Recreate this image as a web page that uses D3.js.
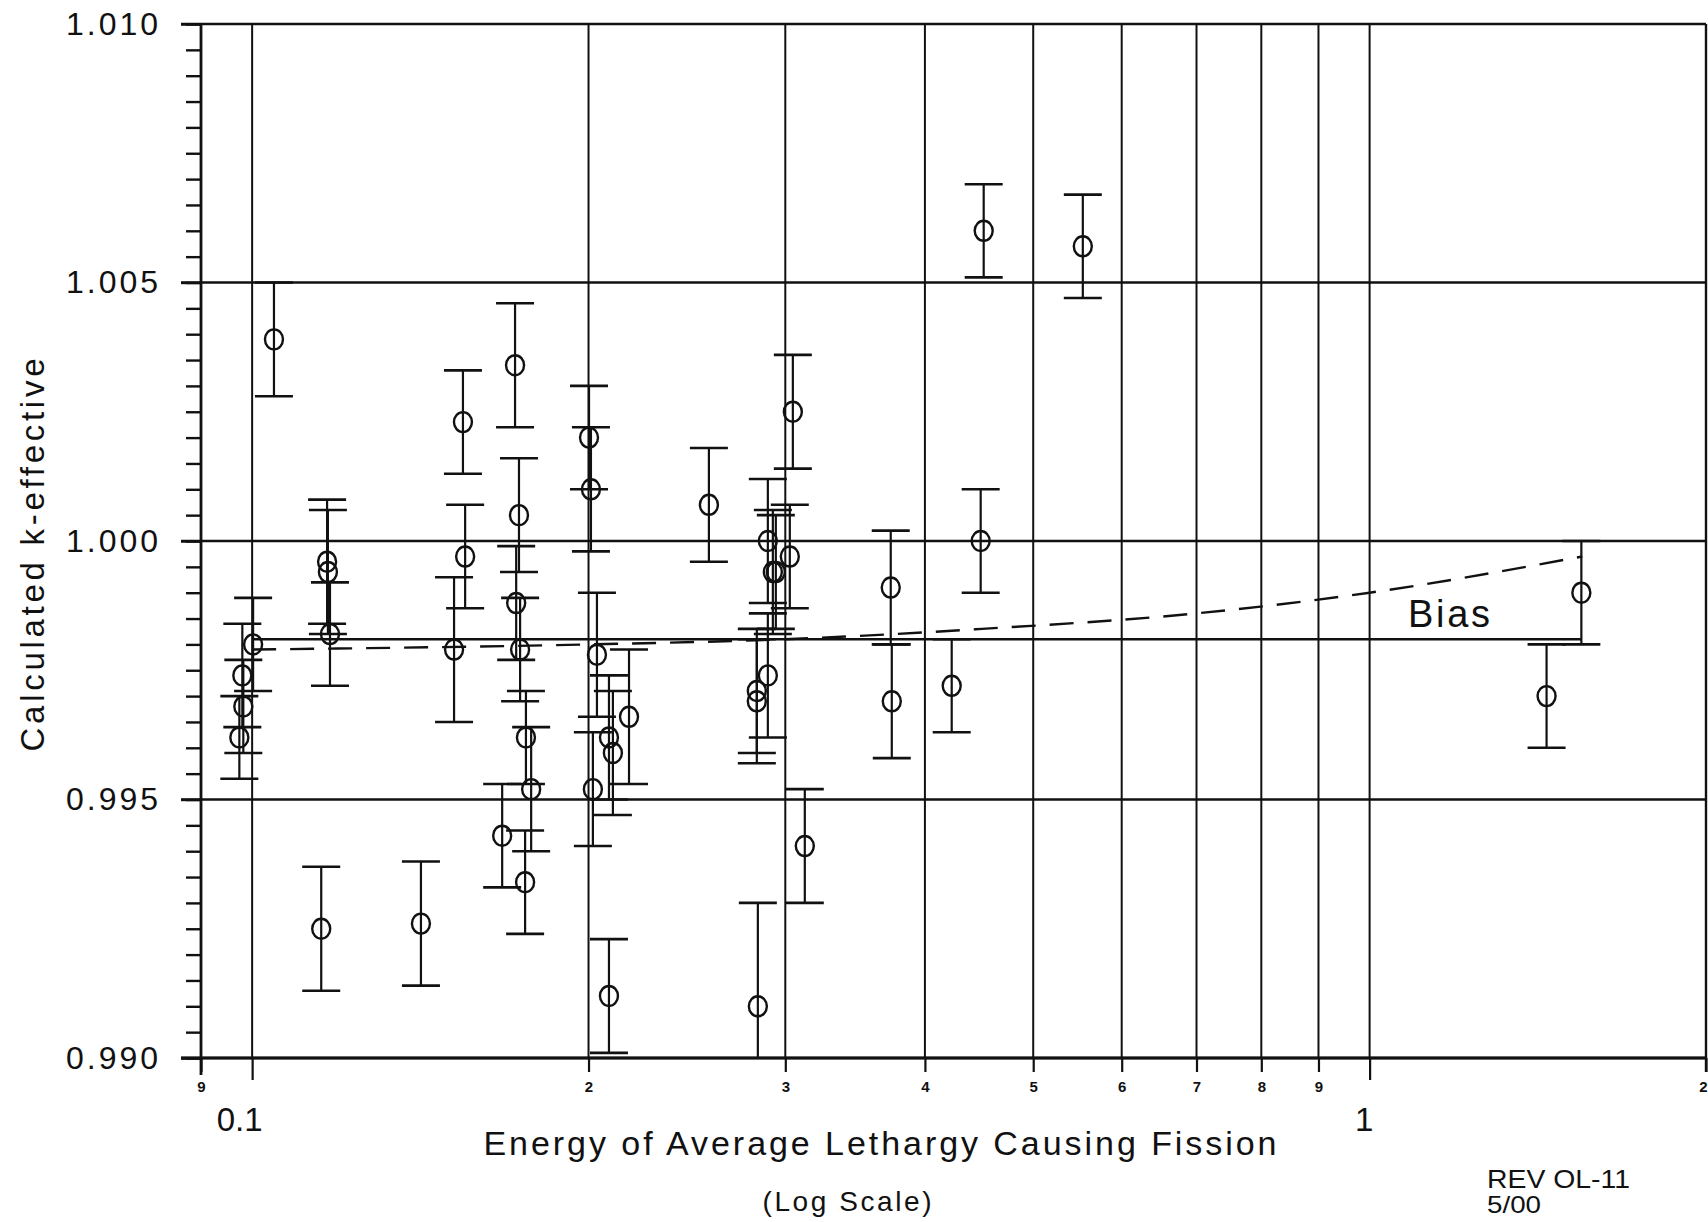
<!DOCTYPE html>
<html><head><meta charset="utf-8">
<script src="https://cdn.jsdelivr.net/npm/d3@7"></script>
<style>
html,body{margin:0;padding:0;background:#fff;}
svg{display:block;background:#fff;}
text{font-family:"Liberation Sans",Arial,sans-serif;fill:#111;}
</style></head><body>
<svg id="c" width="1708" height="1222"></svg>
<script>
// ---- data ----
const energy = [0.0974,0.0980,0.0982,0.1002,0.1046,0.1153,0.1167,0.1169,0.1174,0.1416,
                0.1516,0.1544,0.1551,0.1674,0.1719,0.1733,0.1723,0.1737,0.1758,0.1777,
                0.1755,0.2002,0.2010,0.2035,0.2018,0.2086,0.2103,0.2174,0.2086,0.2563,
                0.2829,0.2829,0.2894,0.2894,0.2924,0.2942,0.3028,0.3047,0.3123,0.2835,
                0.3728,0.3736,0.4227,0.4487,0.4515,0.5538,1.440,1.547];
const keff   = [0.9962,0.9974,0.9968,0.9980,1.0039,0.9925,0.9996,0.9994,0.9982,0.9926,
                0.9979,1.0023,0.9997,0.9943,1.0034,1.0005,0.9988,0.9979,0.9962,0.9952,
                0.9934,1.0020,1.0010,0.9978,0.9952,0.9962,0.9959,0.9966,0.9912,1.0007,
                0.9971,0.9969,0.9974,1.0000,0.9994,0.9994,0.9997,1.0025,0.9941,0.9910,
                0.9991,0.9969,0.9972,1.0000,1.0060,1.0057,0.9970,0.9990];
const sigma  = [0.0008,0.0010,0.0009,0.0009,0.0011,0.0012,0.0012,0.0012,0.0010,0.0012,
                0.0014,0.0010,0.0010,0.0010,0.0012,0.0011,0.0011,0.0010,0.0009,0.0012,
                0.0010,0.0010,0.0012,0.0012,0.0011,0.0012,0.0012,0.0013,0.0011,0.0011,
                0.0012,0.0012,0.0012,0.0012,0.0012,0.0011,0.0010,0.0011,0.0011,0.0020,
                0.0011,0.0011,0.0009,0.0010,0.0009,0.0010,0.0010,0.0010];
const biasEnergy = [0.1,0.2,0.3,0.45,0.7,1.0,1.55];
const biasK      = [0.9979,0.9980,0.9981,0.9983,0.9986,0.9990,0.9997];
const meanK = 0.9981;
const meanLineEnergy = [0.1, 1.547];

const yMajor = [0.990,0.995,1.000,1.005,1.010];
const yMajorLabels = ["0.990","0.995","1.000","1.005","1.010"];
const xGrid = [0.1,0.2,0.3,0.4,0.5,0.6,0.7,0.8,0.9,1,2];
const xMinorTicks = [0.09,0.2,0.3,0.4,0.5,0.6,0.7,0.8,0.9,2];
const xMinorLabels = ["9","2","3","4","5","6","7","8","9","2"];
const xMajorTicks = [0.1,1];
const xMajorLabels = ["0.1","1"];

// ---- drawing ----
const svg = d3.select("#c");
const X0=201, X1=1706, Y0=1058, Y1=24;
const x = d3.scaleLog().domain([0.09,2]).range([X0,X1]);
const y = d3.scaleLinear().domain([0.990,1.010]).range([Y0,Y1]);
const ink = "#111";

// horizontal gridlines
svg.append("g").selectAll("line").data(yMajor).join("line")
  .attr("x1",X0-20).attr("x2",X1).attr("y1",d=>y(d)).attr("y2",d=>y(d))
  .attr("stroke",ink).attr("stroke-width",2.4);

// vertical gridlines
svg.append("g").selectAll("line").data(xGrid).join("line")
  .attr("x1",d=>x(d)).attr("x2",d=>x(d)).attr("y1",Y1).attr("y2",Y0)
  .attr("stroke",ink).attr("stroke-width",2);

// left minor ticks
const gMinY = svg.append("g").attr("transform",`translate(${X0},0)`)
  .call(d3.axisLeft(y).ticks(40).tickSize(15).tickFormat(""));
gMinY.select(".domain").remove();
gMinY.selectAll("line").attr("stroke",ink).attr("stroke-width",2.4);

// left major labels
const gMajY = svg.append("g").attr("transform",`translate(${X0},0)`)
  .call(d3.axisLeft(y).tickValues(yMajor).tickSize(20).tickPadding(23)
        .tickFormat((d,i)=>yMajorLabels[i]));
gMajY.select(".domain").remove();
gMajY.selectAll("line").attr("stroke",ink).attr("stroke-width",2.4);
gMajY.selectAll("text").attr("font-size",32).attr("font-family","Liberation Sans, Arial, sans-serif")
  .attr("fill",ink).attr("textLength",92).attr("lengthAdjust","spacing");

// left axis line and right frame
svg.append("line").attr("x1",X0).attr("x2",X0).attr("y1",Y1).attr("y2",Y0+17)
  .attr("stroke",ink).attr("stroke-width",2.8);
svg.append("line").attr("x1",X1).attr("x2",X1).attr("y1",Y1).attr("y2",Y0+14)
  .attr("stroke",ink).attr("stroke-width",2.4);
svg.append("line").attr("x1",X0-20).attr("x2",X1).attr("y1",Y0).attr("y2",Y0)
  .attr("stroke",ink).attr("stroke-width",2.8);

// bottom minor ticks + small labels
const gMinX = svg.append("g").attr("transform",`translate(0,${Y0})`)
  .call(d3.axisBottom(x).tickValues(xMinorTicks).tickSize(14).tickPadding(9)
        .tickFormat((d,i)=>xMinorLabels[i]));
gMinX.select(".domain").remove();
gMinX.selectAll("line").attr("stroke",ink).attr("stroke-width",2.2);
gMinX.selectAll("text").attr("font-size",15).attr("font-weight","bold")
  .attr("font-family","DejaVu Sans, sans-serif").attr("fill",ink)
  .attr("text-anchor",(d,i)=> i===xMinorTicks.length-1 ? "end" : "middle")
  .attr("dx",(d,i)=> i===xMinorTicks.length-1 ? 1 : 0);

// bottom major ticks + labels
const gMajX = svg.append("g").attr("transform",`translate(0,${Y0})`)
  .call(d3.axisBottom(x).tickValues(xMajorTicks).tickSize(22)
        .tickFormat((d,i)=>xMajorLabels[i]));
gMajX.select(".domain").remove();
gMajX.selectAll("line").attr("stroke",ink).attr("stroke-width",2.2);
gMajX.selectAll("text").attr("font-size",33).attr("font-family","Liberation Sans, Arial, sans-serif")
  .attr("fill",ink).attr("y",73).attr("dy",0)
  .attr("dx",(d,i)=> i===0 ? -13 : -6);

// mean line
svg.append("line")
  .attr("x1",x(meanLineEnergy[0])).attr("x2",x(meanLineEnergy[1]))
  .attr("y1",y(meanK)).attr("y2",y(meanK))
  .attr("stroke",ink).attr("stroke-width",2.4);

// bias dashed curve
const biasData = biasEnergy.map((e,i)=>[e,biasK[i]]);
svg.append("path").datum(biasData)
  .attr("d",d3.line().x(d=>x(d[0])).y(d=>y(d[1])).curve(d3.curveMonotoneX))
  .attr("fill","none").attr("stroke",ink).attr("stroke-width",2.4)
  .attr("stroke-dasharray","24 14");

svg.append("text").attr("x",1408).attr("y",627).attr("font-size",38)
  .attr("textLength",82).attr("lengthAdjust","spacing").text("Bias");

// error bars + points
const pts = energy.map((e,i)=>({e, k:keff[i], s:sigma[i]}));
const lo = y.domain()[0], hi = y.domain()[1];
const gPts = svg.append("g").attr("stroke",ink).attr("fill","none").attr("stroke-width",2.2);
const capW = 19;
pts.forEach(p=>{
  const top = Math.min(p.k+p.s, hi), bot = Math.max(p.k-p.s, lo);
  const cx = x(p.e);
  gPts.append("line").attr("x1",cx).attr("x2",cx).attr("y1",y(top)).attr("y2",y(bot));
  if (p.k+p.s <= hi) gPts.append("line").attr("x1",cx-capW).attr("x2",cx+capW).attr("y1",y(top)).attr("y2",y(top)).attr("stroke-width",2.6);
  if (p.k-p.s >= lo) gPts.append("line").attr("x1",cx-capW).attr("x2",cx+capW).attr("y1",y(bot)).attr("y2",y(bot)).attr("stroke-width",2.6);
  gPts.append("ellipse").attr("cx",cx).attr("cy",y(p.k)).attr("rx",9).attr("ry",10).attr("stroke-width",2.4);
});

// titles
svg.append("text").attr("x",880).attr("y",1155).attr("text-anchor","middle")
  .attr("font-size",34).attr("textLength",793).attr("lengthAdjust","spacing")
  .text("Energy of Average Lethargy Causing Fission");
svg.append("text").attr("x",847).attr("y",1211).attr("text-anchor","middle")
  .attr("font-size",28).attr("textLength",169).attr("lengthAdjust","spacing")
  .text("(Log Scale)");
svg.append("text").attr("transform","translate(44,555) rotate(-90)").attr("text-anchor","middle")
  .attr("font-size",33).attr("textLength",393).attr("lengthAdjust","spacing")
  .text("Calculated k-effective");
svg.append("text").attr("x",1487).attr("y",1188).attr("font-size",25)
  .attr("textLength",143).attr("lengthAdjust","spacingAndGlyphs").text("REV OL-11");
svg.append("text").attr("x",1487).attr("y",1213).attr("font-size",24)
  .attr("textLength",54).attr("lengthAdjust","spacingAndGlyphs").text("5/00");
</script>
</body></html>
